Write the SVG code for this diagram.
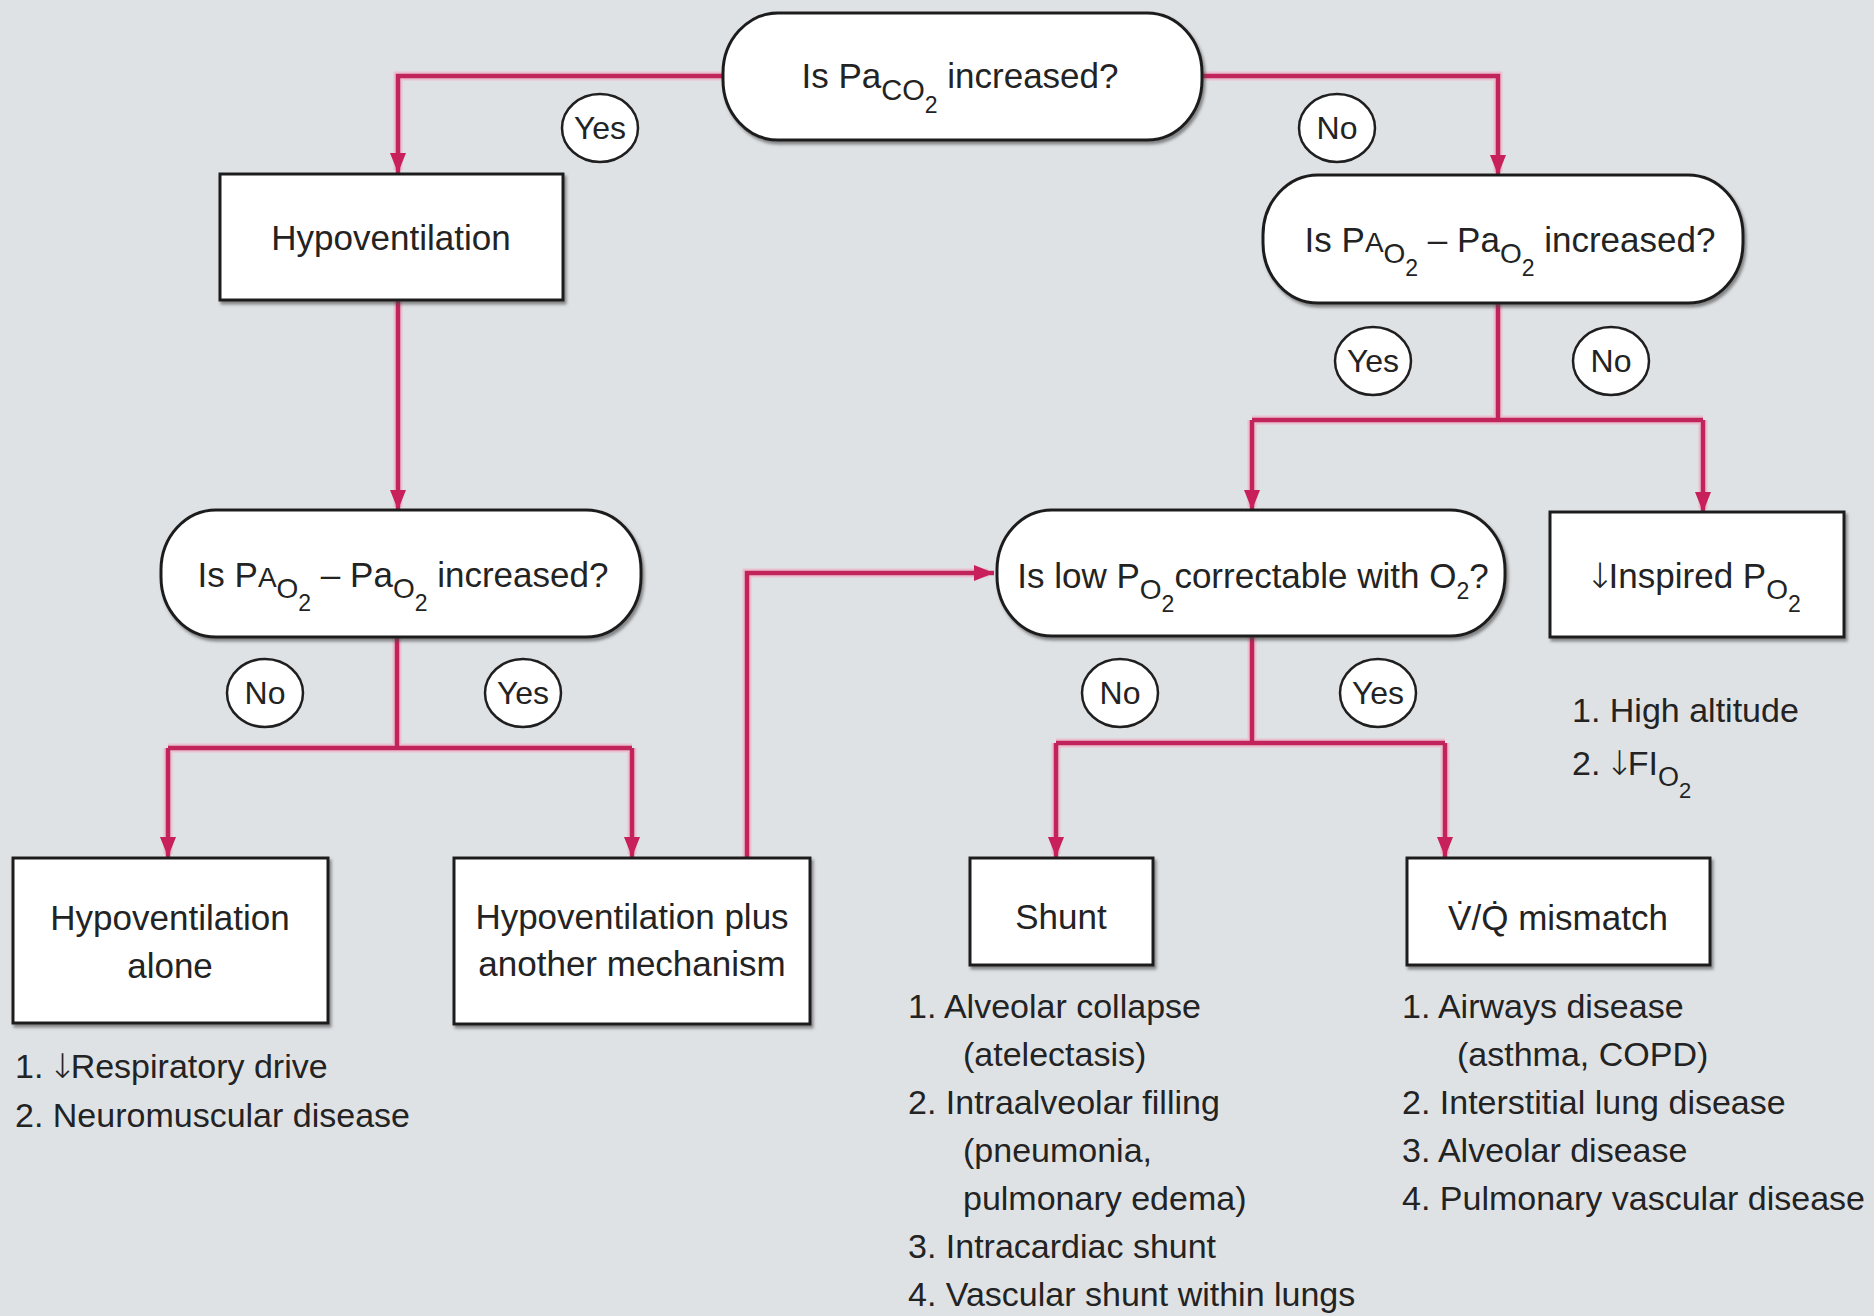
<svg xmlns="http://www.w3.org/2000/svg" width="1874" height="1316" viewBox="0 0 1874 1316">
<defs>
<style>
text{font-family:"Liberation Sans",Arial,sans-serif;fill:#232323}
.lbl{font-size:35px;text-anchor:middle}
.lst{font-size:34px}
.yn{font-size:32px;text-anchor:middle}
.arr{font-family:"DejaVu Sans",sans-serif;font-weight:200;letter-spacing:-6px}
.node{fill:#fff;stroke:#1f1f1f;stroke-width:3;filter:url(#sh)}
.yes{fill:#fff;stroke:#1f1f1f;stroke-width:2.5}
.con{fill:none;stroke:#c0245a;stroke-width:4.5;stroke-linejoin:miter}
.halo{fill:none;stroke:#f2a9c0;stroke-width:9;opacity:.6}
</style>
<filter id="sh" x="-5%" y="-10%" width="115%" height="130%">
<feDropShadow dx="2" dy="3" stdDeviation="1.5" flood-color="#444" flood-opacity=".6"/>
</filter>
<marker id="ahv" viewBox="0 0 20 16" refX="20" refY="8" markerWidth="20" markerHeight="16" markerUnits="userSpaceOnUse" orient="auto">
<path d="M0,0 L20,8 L0,16 Z" fill="#c8205a"/>
</marker>
</defs>
<rect width="1874" height="1316" fill="#dfe2e5"/>

<g id="connectors">
<g class="halo">
<path d="M723,76 H398 V170"/>
<path d="M1202,76 H1498 V172"/>
<path d="M398,300 V507"/>
<path d="M397,637 V748 M168,748 H632 M168,748 V854 M632,748 V854"/>
<path d="M747,857 V573 H988"/>
<path d="M1498,303 V420 M1252,420 H1703 M1252,420 V507 M1703,420 V509"/>
<path d="M1252,636 V743 M1056,743 H1445 M1056,743 V854 M1445,743 V854"/>
</g>
<path class="con" d="M723,76 H398 V173" marker-end="url(#ahv)"/>
<path class="con" d="M1202,76 H1498 V175" marker-end="url(#ahv)"/>
<path class="con" d="M398,300 V510" marker-end="url(#ahv)"/>
<path class="con" d="M397,637 V748"/>
<path class="con" d="M168,748 H632"/>
<path class="con" d="M168,748 V857" marker-end="url(#ahv)"/>
<path class="con" d="M632,748 V857" marker-end="url(#ahv)"/>
<path class="con" d="M747,857 V573 H994" marker-end="url(#ahv)"/>
<path class="con" d="M1498,303 V420"/>
<path class="con" d="M1252,420 H1703"/>
<path class="con" d="M1252,420 V510" marker-end="url(#ahv)"/>
<path class="con" d="M1703,420 V512" marker-end="url(#ahv)"/>
<path class="con" d="M1252,636 V743"/>
<path class="con" d="M1056,743 H1445"/>
<path class="con" d="M1056,743 V857" marker-end="url(#ahv)"/>
<path class="con" d="M1445,743 V857" marker-end="url(#ahv)"/>
</g>

<g id="q-paco2">
<rect class="node" x="723" y="13" width="479" height="127" rx="55" ry="60"/>
<text class="lbl" x="960" y="88">Is Pa<tspan font-size="29" dy="12">CO</tspan><tspan font-size="23" dy="13">2</tspan><tspan dy="-25"> increased?</tspan></text>
</g>

<g id="hypoventilation">
<rect class="node" x="220" y="174" width="343" height="126"/>
<text class="lbl" x="391" y="250">Hypoventilation</text>
</g>

<g id="q-aa-right">
<rect class="node" x="1263" y="175" width="480" height="128" rx="55" ry="60"/>
<text class="lbl" x="1510" y="252">Is P<tspan font-size="28">A</tspan><tspan font-size="28" dy="11">O</tspan><tspan font-size="23" dy="13">2</tspan><tspan dy="-24"> – Pa</tspan><tspan font-size="28" dy="11">O</tspan><tspan font-size="23" dy="13">2</tspan><tspan dy="-24"> increased?</tspan></text>
</g>

<g id="q-aa-left">
<rect class="node" x="161" y="510" width="480" height="127" rx="55" ry="60"/>
<text class="lbl" x="403" y="587">Is P<tspan font-size="28">A</tspan><tspan font-size="28" dy="11">O</tspan><tspan font-size="23" dy="13">2</tspan><tspan dy="-24"> – Pa</tspan><tspan font-size="28" dy="11">O</tspan><tspan font-size="23" dy="13">2</tspan><tspan dy="-24"> increased?</tspan></text>
</g>

<g id="q-correctable">
<rect class="node" x="997" y="510" width="508" height="126" rx="55" ry="60"/>
<text class="lbl" x="1253" y="588">Is low P<tspan font-size="28" dy="11">O</tspan><tspan font-size="23" dy="13">2</tspan><tspan dy="-24">correctable with O</tspan><tspan font-size="23" dy="11">2</tspan><tspan dy="-11">?</tspan></text>
</g>

<g id="inspired">
<rect class="node" x="1550" y="512" width="294" height="125"/>
<text class="lbl" x="1693" y="588"><tspan class="arr">↓</tspan>Inspired P<tspan font-size="28" dy="11">O</tspan><tspan font-size="23" dy="13">2</tspan></text>
</g>

<g id="hypo-alone">
<rect class="node" x="13" y="858" width="315" height="165"/>
<text class="lbl" x="170" y="930">Hypoventilation</text>
<text class="lbl" x="170" y="978">alone</text>
</g>

<g id="hypo-plus">
<rect class="node" x="454" y="858" width="356" height="166"/>
<text class="lbl" x="632" y="929">Hypoventilation plus</text>
<text class="lbl" x="632" y="976">another mechanism</text>
</g>

<g id="shunt">
<rect class="node" x="970" y="858" width="183" height="107"/>
<text class="lbl" x="1061" y="929">Shunt</text>
</g>

<g id="vq">
<rect class="node" x="1407" y="858" width="303" height="107"/>
<text class="lbl" x="1558" y="930">V̇/Q̇ mismatch</text>
</g>

<g id="labels">
<ellipse class="yes" cx="600" cy="128" rx="38" ry="34"/>
<text class="yn" x="600" y="139">Yes</text>
<ellipse class="yes" cx="1337" cy="128" rx="38" ry="34"/>
<text class="yn" x="1337" y="139">No</text>
<ellipse class="yes" cx="1373" cy="361" rx="38" ry="34"/>
<text class="yn" x="1373" y="372">Yes</text>
<ellipse class="yes" cx="1611" cy="361" rx="38" ry="34"/>
<text class="yn" x="1611" y="372">No</text>
<ellipse class="yes" cx="265" cy="693" rx="38" ry="34"/>
<text class="yn" x="265" y="704">No</text>
<ellipse class="yes" cx="523" cy="693" rx="38" ry="34"/>
<text class="yn" x="523" y="704">Yes</text>
<ellipse class="yes" cx="1120" cy="693" rx="38" ry="34"/>
<text class="yn" x="1120" y="704">No</text>
<ellipse class="yes" cx="1378" cy="693" rx="38" ry="34"/>
<text class="yn" x="1378" y="704">Yes</text>
</g>

<g id="lists">
<text class="lst" x="15" y="1078">1.<tspan class="arr"> ↓</tspan>Respiratory drive</text>
<text class="lst" x="15" y="1127">2. Neuromuscular disease</text>

<text class="lst" x="1572" y="722">1. High altitude</text>
<text class="lst" x="1572" y="775">2.<tspan class="arr"> ↓</tspan>FI<tspan font-size="27" dy="11">O</tspan><tspan font-size="22" dy="12">2</tspan></text>

<text class="lst" x="908" y="1018">1. Alveolar collapse</text>
<text class="lst" x="963" y="1066">(atelectasis)</text>
<text class="lst" x="908" y="1114">2. Intraalveolar filling</text>
<text class="lst" x="963" y="1162">(pneumonia,</text>
<text class="lst" x="963" y="1210">pulmonary edema)</text>
<text class="lst" x="908" y="1258">3. Intracardiac shunt</text>
<text class="lst" x="908" y="1306">4. Vascular shunt within lungs</text>

<text class="lst" x="1402" y="1018">1. Airways disease</text>
<text class="lst" x="1457" y="1066">(asthma, COPD)</text>
<text class="lst" x="1402" y="1114">2. Interstitial lung disease</text>
<text class="lst" x="1402" y="1162">3. Alveolar disease</text>
<text class="lst" x="1402" y="1210">4. Pulmonary vascular disease</text>
</g>
</svg>
